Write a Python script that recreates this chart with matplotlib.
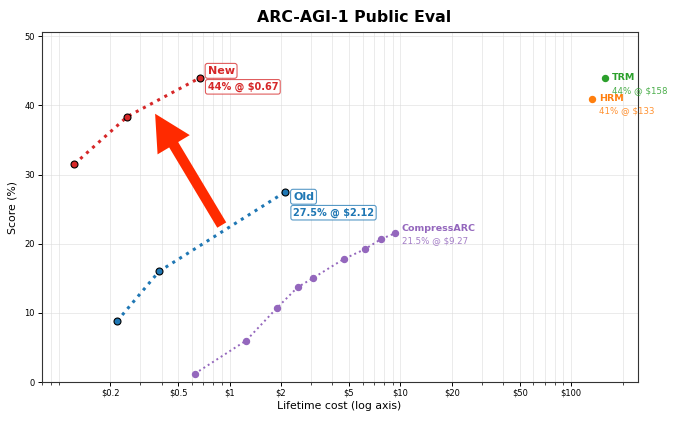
import numpy as np
import matplotlib.pyplot as plt
import matplotlib.ticker as mticker
from matplotlib.patches import FancyArrowPatch

# data
new_cost = [0.123, 0.252, 0.67]
new_score = [31.5, 38.4, 44.0]

old_cost = [0.219, 0.386, 2.12]
old_score = [8.8, 16.0, 27.5]

carc_cost = [0.625, 1.25, 1.89, 2.5, 3.06, 4.67, 6.18, 7.74, 9.27]
carc_score = [1.2, 6.0, 10.7, 13.7, 15.0, 17.8, 19.2, 20.7, 21.5]

trm_cost, trm_score = 158, 44.0
hrm_cost, hrm_score = 133, 41.0

xtick_vals = [0.2, 0.5, 1, 2, 5, 10, 20, 50, 100]
xtick_labels = ['$0.2', '$0.5', '$1', '$2', '$5', '$10', '$20', '$50', '$100']

RED = '#d62728'
BLUE = '#1f77b4'
PURPLE = '#9467bd'
GREEN = '#2ca02c'
ORANGE = '#ff7f0e'

fig = plt.figure(figsize=(6.8, 4.21), dpi=100)
ax = fig.add_axes([0.0613, 0.0926, 0.8762, 0.831])
ax.set_xscale('log')
ax.set_xlim(0.0793, 244.5)
ax.set_ylim(0, 44 * 1.15)

ax.xaxis.set_major_locator(mticker.FixedLocator(xtick_vals))
ax.xaxis.set_major_formatter(mticker.FixedFormatter(xtick_labels))
ax.xaxis.set_minor_locator(mticker.LogLocator(base=10, subs=np.arange(1, 10), numticks=20))
ax.xaxis.set_minor_formatter(mticker.NullFormatter())
ax.set_yticks([0, 10, 20, 30, 40, 50])
ax.tick_params(labelsize=6, length=3, width=0.7, pad=2)
ax.tick_params(which='minor', length=2, width=0.5)
ax.grid(True, which='both', axis='x', color='#dddddd', lw=0.6, alpha=0.7)
ax.grid(True, which='major', axis='y', color='#dddddd', lw=0.6, alpha=0.7)
ax.set_axisbelow(True)
for s in ax.spines.values():
    s.set_linewidth(0.8)
    s.set_color('#333333')

# series
ax.plot(new_cost, new_score, ':', color=RED, lw=2.2, marker='o', ms=5,
        mfc=RED, mec='black', mew=0.8, zorder=4)
ax.plot(old_cost, old_score, ':', color=BLUE, lw=2.2, marker='o', ms=5,
        mfc=BLUE, mec='black', mew=0.8, zorder=4)
ax.plot(carc_cost, carc_score, ':', color=PURPLE, lw=1.4, marker='o', ms=4.3,
        mfc=PURPLE, mec=PURPLE, zorder=3)
ax.plot([trm_cost], [trm_score], 'o', color=GREEN, ms=4.3, zorder=3)
ax.plot([hrm_cost], [hrm_score], 'o', color=ORANGE, ms=4.3, zorder=3)


def boxed(text, xy, off, color, size, bold=True):
    ax.annotate(text, xy=xy, xytext=off, textcoords='offset points',
                ha='left', va='center', fontsize=size, color=color,
                fontweight='bold' if bold else 'normal', annotation_clip=False,
                bbox=dict(boxstyle='round,pad=0.22', fc='white', ec=color,
                          lw=0.8, alpha=0.75), zorder=6)


def plain(text, xy, off, color, size, bold=True, alpha=1.0):
    ax.annotate(text, xy=xy, xytext=off, textcoords='offset points',
                ha='left', va='center', fontsize=size, color=color, alpha=alpha,
                fontweight='bold' if bold else 'normal', annotation_clip=False,
                zorder=6)


boxed('New', (new_cost[-1], new_score[-1]), (5.5, 5), RED, 8)
boxed('44% @ $0.67', (new_cost[-1], new_score[-1]), (5.5, -6.5), RED, 7)
boxed('Old', (old_cost[-1], old_score[-1]), (5.5, -3.5), BLUE, 8)
boxed('27.5% @ $2.12', (old_cost[-1], old_score[-1]), (5.5, -15), BLUE, 7)

plain('CompressARC', (carc_cost[-1], carc_score[-1]), (5, 3.5), PURPLE, 6.8)
plain('21.5% @ $9.27', (carc_cost[-1], carc_score[-1]), (5, -5), PURPLE, 6.2,
      bold=False, alpha=0.85)
plain('TRM', (trm_cost, trm_score), (5, 0), GREEN, 6.8)
plain('44% @ $158', (trm_cost, trm_score), (5, -9.5), GREEN, 6.2, bold=False, alpha=0.85)
plain('HRM', (hrm_cost, hrm_score), (5, 0), ORANGE, 6.8)
plain('41% @ $133', (hrm_cost, hrm_score), (5, -8.5), ORANGE, 6.2, bold=False, alpha=0.85)

# big arrow from old to new
arrow = FancyArrowPatch((0.899, 22.7), (0.366, 38.8),
                        arrowstyle='simple,head_length=26,head_width=27,tail_width=7.5',
                        mutation_scale=1, color='#ff2a00', lw=0,
                        shrinkA=0, shrinkB=0, zorder=5)
ax.add_patch(arrow)

ax.set_title('ARC-AGI-1 Public Eval', fontsize=11.3, fontweight='bold', pad=7, x=0.524)
ax.set_xlabel('Lifetime cost (log axis)', fontsize=7.8, labelpad=2)
ax.set_ylabel('Score (%)', fontsize=7.8, labelpad=5)

fig.savefig('out.png', dpi=100)
